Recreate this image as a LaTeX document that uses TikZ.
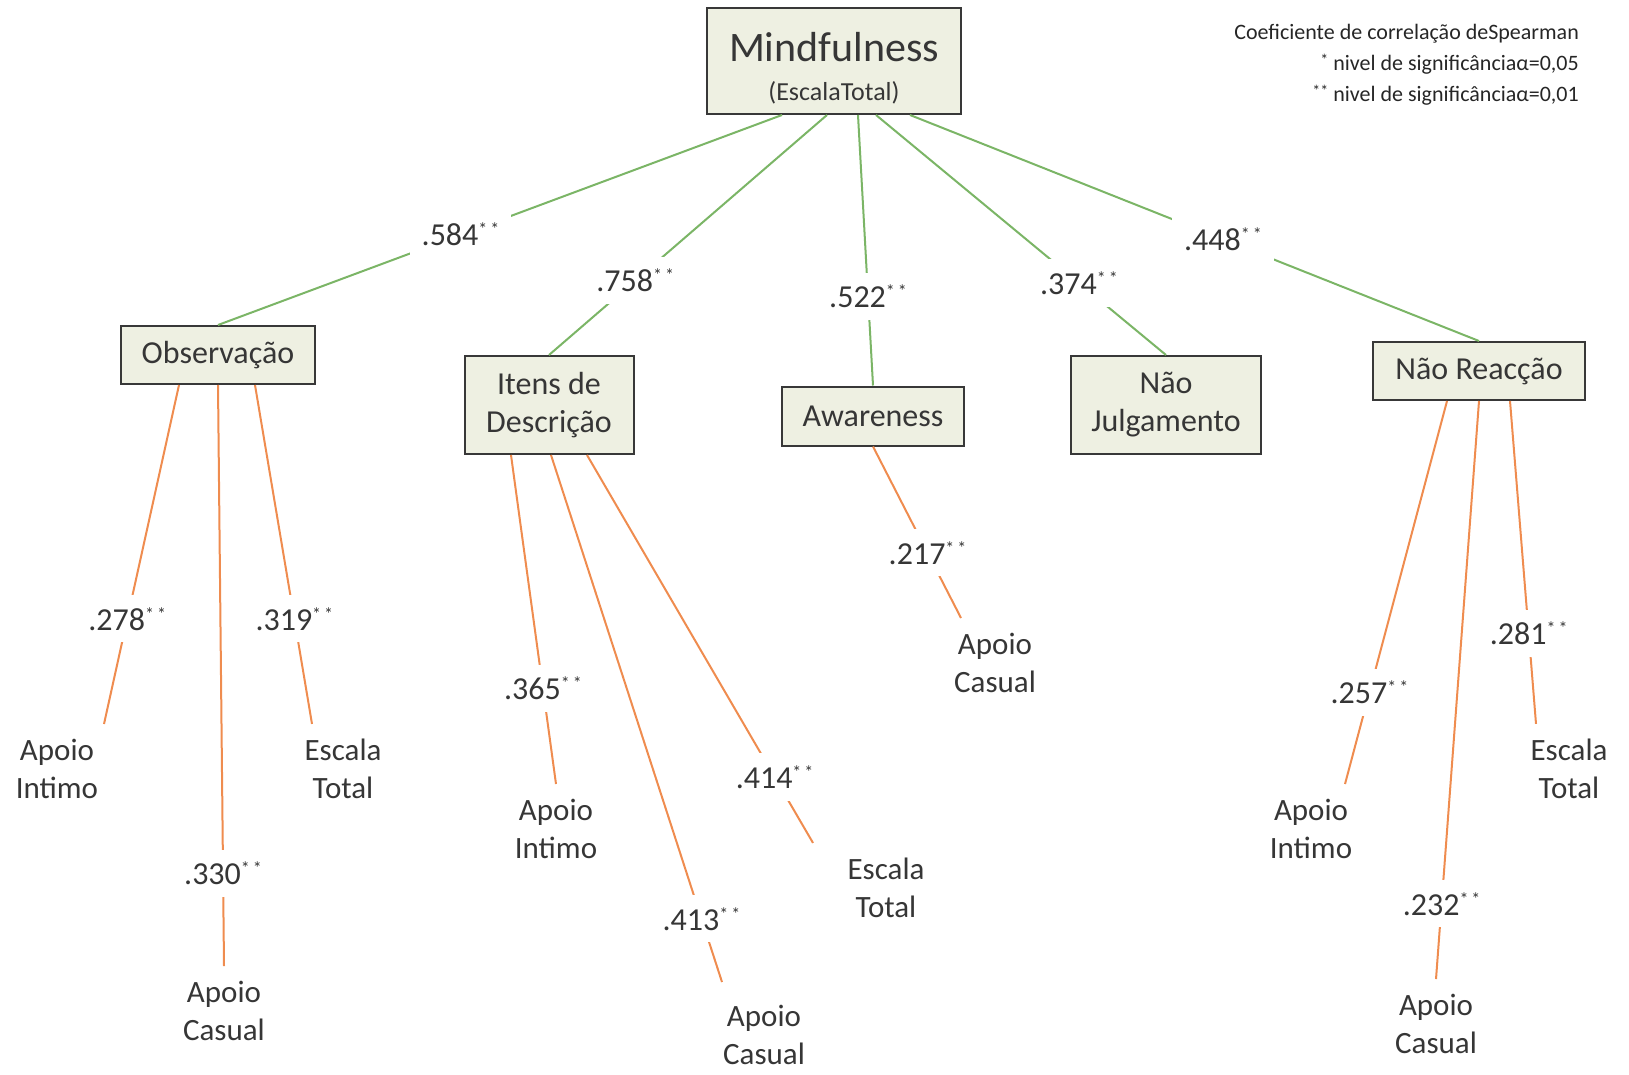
\documentclass[tikz,border=0pt]{standalone}
\usepackage{fontspec}
\setmainfont{Carlito}
\definecolor{boxfill}{HTML}{EEF0E2}
\definecolor{boxline}{HTML}{383838}
\definecolor{grnline}{HTML}{7BB566}
\definecolor{orgline}{HTML}{EF8C4F}
\definecolor{txt}{HTML}{363636}
\newcommand{\twostar}{\raisebox{10pt}{\fontsize{18}{18}\selectfont*\,*}}
\newcommand{\sigmark}[1]{\raisebox{5pt}{\fontsize{16}{16}\selectfont #1}}

\begin{document}
\begin{tikzpicture}[x=1pt,y=-1pt,
  box/.style={draw=boxline,fill=boxfill,line width=2pt,rectangle,align=center,text=txt,font=\fontsize{32}{38}\selectfont},
  leaf/.style={align=center,text=txt,inner sep=15pt,font=\fontsize{31}{38}\selectfont},
  corr/.style={fill=white,text=txt,inner sep=12pt,font=\fontsize{32}{38}\selectfont},
  trunk/.style={grnline,line width=2pt},
  branch/.style={orgline,line width=2pt}]
\useasboundingbox (0,0) rectangle (1629,1075);
\node[box,minimum width=254,minimum height=106,font=\fontsize{42}{39}\selectfont](M) at (834,61)
	{\rule{0pt}{43pt}Mindfulness\\{\fontsize{26}{39}\selectfont (EscalaTotal)}};
\node[box,minimum width=194,minimum height=58](O) at (218,355) {Observação};
\node[box,minimum width=169,minimum height=98](I) at (549,405) {Itens de\\Descrição};
\node[box,minimum width=182,minimum height=59](A) at (873,416) {Awareness};
\node[box,minimum width=190,minimum height=98](NJ) at (1166,405) {Não\\Julgamento};
\node[box,minimum width=212,minimum height=58](NR) at (1479,371) {Não Reacção};
\node[leaf](OI) at (57,769) {Apoio\\Intimo};
\node[leaf](OC) at (224,1011) {Apoio\\Casual};
\node[leaf](OE) at (343,769) {Escala\\Total};
\node[leaf](II) at (556,829) {Apoio\\Intimo};
\node[leaf](IC) at (764,1035) {Apoio\\Casual};
\node[leaf](IE) at (886,888) {Escala\\Total};
\node[leaf](AC) at (995,663) {Apoio\\Casual};
\node[leaf](RI) at (1311,829) {Apoio\\Intimo};
\node[leaf](RC) at (1436,1024) {Apoio\\Casual};
\node[leaf](RE) at (1569,769) {Escala\\Total};
\node[align=right,anchor=east,inner sep=0pt,text=black!85,font=\fontsize{22}{31}\selectfont](leg) at (1579,65)
	{Coeficiente de correlação deSpearman\\ \sigmark{*} nivel de significânciaα=0,05\\ \sigmark{**} nivel de significânciaα=0,01};
\draw[trunk] ([xshift=-52pt]M.south) -- node[corr,pos=.57]{.584\twostar} (O.north);
\draw[trunk] ([xshift=-7pt]M.south) -- node[corr,pos=.69]{.758\twostar} (I.north);
\draw[trunk] ([xshift=24pt]M.south) -- node[corr,pos=.67]{.522\twostar} (A.north);
\draw[trunk] ([xshift=42pt]M.south) -- node[corr,pos=.70]{.374\twostar} (NJ.north);
\draw[trunk] ([xshift=76pt]M.south) -- node[corr,pos=.55]{.448\twostar} (NR.north);
\draw[branch] ([xshift=-39pt]O.south) -- node[corr,pos=.69]{.278\twostar} ([xshift=47pt]OI.north);
\draw[branch] (O.south) -- node[corr,pos=.84]{.330\twostar} (OC.north);
\draw[branch] ([xshift=37pt]O.south) -- node[corr,pos=.69]{.319\twostar} ([xshift=-31pt]OE.north);
\draw[branch] ([xshift=-38pt]I.south) -- node[corr,pos=.71]{.365\twostar} (II.north);
\draw[branch] ([xshift=2pt]I.south) -- node[corr,pos=.88]{.413\twostar} ([xshift=-42pt,yshift=8pt]IC.north);
\draw[branch] ([xshift=38pt]I.south) -- node[corr,pos=.83]{.414\twostar} ([xshift=-73pt]IE.north);
\draw[branch] (A.south) -- node[corr,pos=.62]{.217\twostar} ([xshift=-34pt]AC.north);
\draw[branch] ([xshift=-32pt]NR.south) -- node[corr,pos=.76]{.257\twostar} ([xshift=34pt]RI.north);
\draw[branch] (NR.south) -- node[corr,pos=.87]{.232\twostar} (RC.north);
\draw[branch] ([xshift=31pt]NR.south) -- node[corr,pos=.72]{.281\twostar} ([xshift=-33pt]RE.north);
\end{tikzpicture}
\end{document}
